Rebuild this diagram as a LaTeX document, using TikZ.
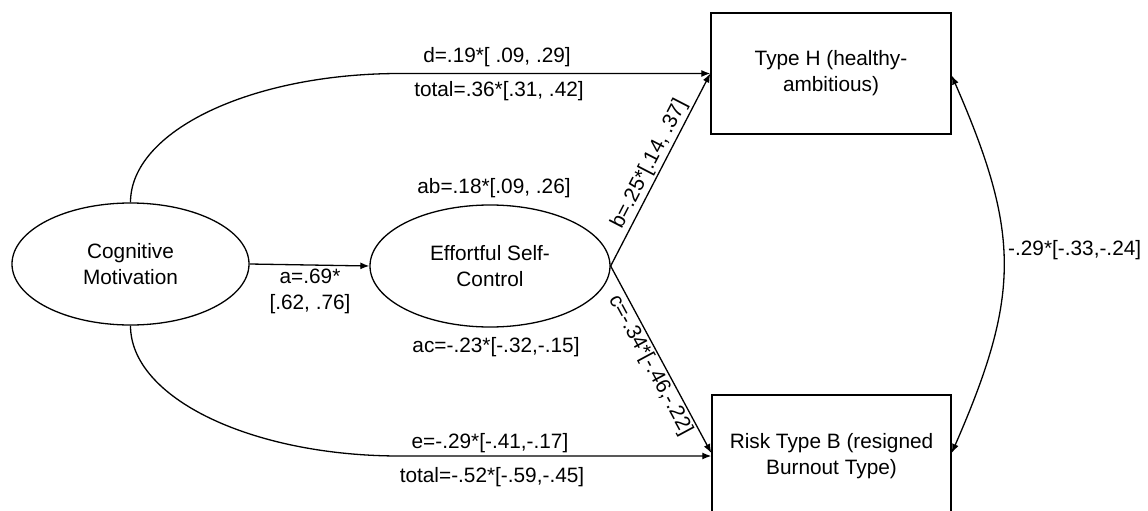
\documentclass[tikz,border=0pt]{standalone}
\usepackage{fontspec}
\setmainfont{Liberation Sans}
\usetikzlibrary{arrows.meta,shapes.geometric,calc}
\begin{document}
\begin{tikzpicture}[x=1pt,y=1pt,
  every node/.style={font=\fontsize{20.8}{26}\selectfont, text=black},
  ell/.style={draw, ellipse, line width=1.3pt, inner sep=0pt, align=center},
  boxn/.style={draw, rectangle, line width=1.4pt, inner sep=0pt, align=center},
  arr/.style={line width=1.3pt, -{Latex[length=9pt,width=7pt]}},
  darr/.style={line width=1.3pt, {Latex[length=9pt,width=7pt]}-{Latex[length=9pt,width=7pt]}},
  lbl/.style={inner sep=0pt, align=center}]
\useasboundingbox (0,0) rectangle (1148,-511);
\clip (0,0) rectangle (1148,-511);
\fill[white] (0,0) rectangle (1148,-511);

\node[ell, minimum width=237pt, minimum height=122pt] (cog) at (130.5,-264) {Cognitive\\Motivation};
\node[ell, minimum width=240pt, minimum height=122pt] (esc) at (490,-266) {Effortful Self-\\Control};
\node[boxn, minimum width=240pt, minimum height=121pt] (H) at (831,-73.5) {Type H (healthy-\\ambitious)};
\node[boxn, minimum width=239pt, minimum height=122pt] (B) at (831.5,-456) {Risk Type B (resigned\\Burnout Type)};

\coordinate (tp) at (400,-73.5);
\coordinate (bp) at (400,-456);

% a path
\draw[arr] (cog.east) -- (esc.west);
\node[lbl] (la) at (310,-291) {a=.69*\\{}[.62, .76]};

% d path (top)
\draw[arr] (cog.north) .. controls +(0,71.5) and ($(tp)+(-148.8,0)$) .. (tp) -- (H.west);
\node[lbl] (ld) at (497,-57) {d=.19*[ .09, .29]};
\node[lbl] (lt1) at (499,-91) {total=.36*[.31, .42]};

% e path (bottom)
\draw[arr] (cog.south) .. controls +(0,-72.3) and ($(bp)+(-148.8,0)$) .. (bp) -- (B.west);
\node[lbl] (le) at (490,-443) {e=-.29*[-.41,-.17]};
\node[lbl] (lt2) at (492,-477) {total=-.52*[-.59,-.45]};

% indirect labels
\node[lbl] (lab) at (494,-188) {ab=.18*[.09, .26]};
\node[lbl] (lac) at (496,-347) {ac=-.23*[-.32,-.15]};

% b and c paths
\draw[arr] (esc.east) -- node[sloped, above, pos=0.5, inner sep=2pt] (lb) {b=.25*[.14, .37]} (H.west);
\draw[arr] (esc.east) -- node[sloped, below, pos=0.5, inner sep=2pt] (lc) {c=-.34*[-.46,-.22]} ([yshift=3pt]B.west);

% covariance
\draw[darr] ([yshift=-2pt]H.east) .. controls +(69,-158) and +(69,158) .. ([yshift=3pt]B.east);
\node[lbl, anchor=west] (lcov) at (1008,-250) {-.29*[-.33,-.24]};
\end{tikzpicture}
\end{document}
